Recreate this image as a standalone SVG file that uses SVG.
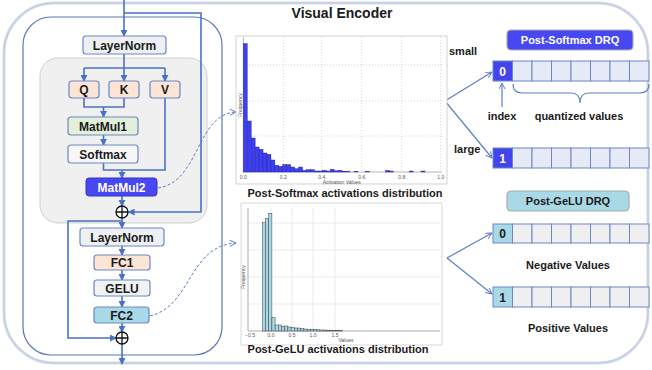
<svg xmlns="http://www.w3.org/2000/svg" width="652" height="370" viewBox="0 0 652 370">
<defs>
<style>
text{font-family:"Liberation Sans",Arial,sans-serif;font-weight:bold;fill:#1a1a1a}
.box{stroke:#6a88c6;stroke-width:1.2}
.lbl{font-size:12px;text-anchor:middle}
.ln{fill:none;stroke:#4a72c4;stroke-width:1.6}
.arr{marker-end:url(#ah)}
.thin{fill:none;stroke:#5b7fc7;stroke-width:1.2;marker-end:url(#oh)}
.dash{fill:none;stroke:#5b7fc7;stroke-width:1;stroke-dasharray:3,2;marker-end:url(#oh)}
.plus{fill:#fff;stroke:#111;stroke-width:1.3}
.cell{stroke:#6a88c6;stroke-width:1}
.tick{font-size:5px;font-weight:normal;fill:#555;text-anchor:middle}
.grid1{stroke:#bbb;stroke-width:0.6;stroke-dasharray:1,2}
.grid2{stroke:#e2e2e2;stroke-width:0.7}
.b1{fill:#3f3ff2;stroke:#20208a;stroke-width:0.4}
.b2{fill:#a6d8e8;stroke:#333;stroke-width:0.45}
.sm{font-size:11px}
</style>
<marker id="ah" viewBox="0 0 8 8" refX="7" refY="4" markerWidth="7" markerHeight="7" markerUnits="userSpaceOnUse" orient="auto"><path d="M0,0 L8,4 L0,8 z" fill="#4a72c4"/></marker>
<marker id="oh" viewBox="0 0 8 8" refX="7.5" refY="4" markerWidth="7" markerHeight="7" markerUnits="userSpaceOnUse" orient="auto"><path d="M0.5,0.5 L7.5,4 L0.5,7.5" fill="none" stroke="#5b7fc7" stroke-width="1.1"/></marker>
</defs>
<rect width="652" height="370" fill="#fff"/>
<!-- outer frame -->
<rect x="4" y="3" width="644" height="360" rx="50" fill="none" stroke="#d3dbec" stroke-width="3"/>
<rect x="4" y="3" width="644" height="360" rx="50" fill="none" stroke="#b9c5dd" stroke-width="0.8"/>
<text x="342" y="18" font-size="14" text-anchor="middle">Visual Encoder</text>

<!-- encoder frame -->
<g id="encoder">
<rect x="23" y="17" width="199" height="338" rx="28" fill="none" stroke="#5b78b8" stroke-width="1.2"/>
<rect x="40" y="58" width="167" height="165" rx="18" fill="#f0f0f0" stroke="#cfcfcf" stroke-width="1"/>
</g>

<g id="connectors">
<path class="ln arr" d="M124,0 V36"/>
<path class="ln arr" d="M124,13 H201 V212 H128.5"/>
<path class="ln" d="M124,54 V68 M84,68 H165"/>
<path class="ln arr" d="M84,68 V81"/>
<path class="ln arr" d="M124,68 V81"/>
<path class="ln arr" d="M165,68 V81"/>
<path class="ln" d="M84,98 V107 H124 V98"/>
<path class="ln arr" d="M103.5,107 V117"/>
<path class="ln arr" d="M103.5,135 V145"/>
<path class="ln" d="M103.5,163 V170 H165 V98"/>
<path class="ln arr" d="M122,170 V178"/>
<path class="ln arr" d="M122,196 V206"/>
<path class="ln arr" d="M122,218 V228"/>
<path class="ln arr" d="M122,221 H68 V338 H116"/>
<path class="ln arr" d="M122,246 V255"/>
<path class="ln arr" d="M122,270 V280"/>
<path class="ln arr" d="M122,296 V307"/>
<path class="ln arr" d="M122,323 V332"/>
<path class="ln arr" d="M122,344 V364"/>
<path class="dash" d="M158,188 C200,182 196,114 236,112"/>
<path class="dash" d="M150,316 C192,306 188,246 236,243"/>
<path class="thin" d="M445,101 L492,72"/>
<path class="thin" d="M445,101 L492,158"/>
<path class="thin" d="M447,258 L492,233"/>
<path class="thin" d="M447,258 L492,294"/>
<path class="thin" d="M502,107 V83"/>
<path d="M513,84 Q513,93 522,93 H571 Q580,93 580,103 Q580,93 589,93 H640 Q649,93 649,84" fill="none" stroke="#5b7fc7" stroke-width="1.2"/>
</g>

<g id="layernorm1"><rect class="box" x="83" y="36" width="83" height="18" rx="3" fill="#eef0f4"/><text class="lbl" x="124.5" y="49.5">LayerNorm</text></g>
<g id="q"><rect class="box" x="69" y="81" width="30" height="17" rx="3" fill="#fce4d6"/><text class="lbl" x="84" y="94">Q</text></g>
<g id="k"><rect class="box" x="109" y="81" width="30" height="17" rx="3" fill="#fce4d6"/><text class="lbl" x="124" y="94">K</text></g>
<g id="v"><rect class="box" x="150" y="81" width="30" height="17" rx="3" fill="#fce4d6"/><text class="lbl" x="165" y="94">V</text></g>
<g id="matmul1"><rect class="box" x="68" y="117" width="70" height="18" rx="3" fill="#e2efda"/><text class="lbl" x="103" y="130.5">MatMul1</text></g>
<g id="softmax"><rect class="box" x="68" y="145" width="70" height="18" rx="3" fill="#f7f7f7"/><text class="lbl" x="103" y="158.5">Softmax</text></g>
<g id="matmul2"><rect x="86" y="178" width="71" height="18" rx="3" fill="#4848f2" stroke="#3535c8" stroke-width="1"/><text class="lbl" x="121.5" y="191.5" style="fill:#fff">MatMul2</text></g>
<g id="add1"><circle class="plus" cx="122" cy="212" r="6"/><path d="M116,212 H128 M122,206 V218" stroke="#111" stroke-width="1.3"/></g>
<g id="layernorm2"><rect class="box" x="80" y="228" width="84" height="18" rx="3" fill="#eef0f4"/><text class="lbl" x="122" y="241.5">LayerNorm</text></g>
<g id="fc1"><rect class="box" x="94" y="255" width="56" height="15" rx="3" fill="#fce4d6"/><text class="lbl" x="122" y="267">FC1</text></g>
<g id="gelu"><rect class="box" x="94" y="280" width="56" height="16" rx="3" fill="#f2f2f4"/><text class="lbl" x="122" y="292.5">GELU</text></g>
<g id="fc2"><rect class="box" x="94" y="307" width="55" height="16" rx="3" fill="#a9d8e6"/><text class="lbl" x="121.5" y="319.5">FC2</text></g>
<g id="add2"><circle class="plus" cx="122" cy="338" r="6"/><path d="M116,338 H128 M122,332 V344" stroke="#111" stroke-width="1.3"/></g>

<!-- histogram 1 -->
<g id="hist-softmax">
<rect x="236" y="36" width="211" height="148" fill="#fff" stroke="#c8c8c8" stroke-width="0.8"/>
<path class="grid1" d="M283.3,37 V172 M321.7,37 V172 M361.7,37 V172 M401.7,37 V172 M440.7,37 V172 M243,65 H442 M243,101 H442 M243,136 H442"/>
<line x1="243.3" y1="37" x2="243.3" y2="172" stroke="#999" stroke-width="0.7"/>
<line x1="243" y1="172" x2="442" y2="172" stroke="#999" stroke-width="0.7"/>
<rect class="b1" x="243.3" y="43.6" width="3.95" height="128.4"/>
<rect class="b1" x="247.25" y="121" width="3.95" height="51"/>
<rect class="b1" x="251.2" y="138" width="3.95" height="34"/>
<rect class="b1" x="255.15" y="147" width="3.95" height="25"/>
<rect class="b1" x="259.1" y="149.3" width="3.95" height="22.7"/>
<rect class="b1" x="263.05" y="153" width="3.95" height="19"/>
<rect class="b1" x="267" y="154.3" width="3.95" height="17.7"/>
<rect class="b1" x="270.95" y="160" width="3.95" height="12"/>
<rect class="b1" x="274.9" y="165.3" width="3.95" height="6.7"/>
<rect class="b1" x="278.85" y="166.3" width="3.95" height="5.7"/>
<rect class="b1" x="282.8" y="164.6" width="3.95" height="7.4"/>
<rect class="b1" x="286.75" y="164.6" width="3.95" height="7.4"/>
<rect class="b1" x="290.7" y="167" width="3.95" height="5"/>
<rect class="b1" x="294.65" y="168.7" width="3.95" height="3.3"/>
<rect class="b1" x="298.6" y="167" width="3.95" height="5"/>
<rect class="b1" x="302.55" y="170.3" width="3.95" height="1.7"/>
<rect class="b1" x="306.5" y="169.7" width="3.95" height="2.3"/>
<rect class="b1" x="310.45" y="169.7" width="3.95" height="2.3"/>
<rect class="b1" x="314.4" y="171" width="3.95" height="1"/>
<rect class="b1" x="318.35" y="171" width="3.95" height="1"/>
<rect class="b1" x="322.3" y="170.3" width="3.95" height="1.7"/>
<rect class="b1" x="326.25" y="171" width="3.95" height="1"/>
<rect class="b1" x="330.2" y="169.3" width="3.95" height="2.7"/>
<rect class="b1" x="334.15" y="170.8" width="3.95" height="1.2"/>
<rect class="b1" x="338.1" y="170.3" width="3.95" height="1.7"/>
<rect class="b1" x="342.05" y="171.2" width="3.95" height="0.8"/>
<rect class="b1" x="346" y="171.4" width="3.95" height="0.6"/>
<rect class="b1" x="353.9" y="171.4" width="3.95" height="0.6"/>
<rect class="b1" x="365.75" y="171.4" width="3.95" height="0.6"/>
<rect class="b1" x="385.5" y="170.5" width="3.95" height="1.5"/>
<rect class="b1" x="389.45" y="171" width="3.95" height="1"/>
<rect class="b1" x="409.2" y="171" width="3.95" height="1"/>
<rect class="b1" x="421.05" y="171" width="3.95" height="1"/>
<text class="tick" x="243.3" y="179">0.0</text>
<text class="tick" x="283.3" y="179">0.2</text>
<text class="tick" x="321.7" y="179">0.4</text>
<text class="tick" x="361.7" y="179">0.6</text>
<text class="tick" x="401.7" y="179">0.8</text>
<text class="tick" x="440.7" y="179">1.0</text>
<text class="tick" x="341.7" y="184">Activation Values</text>
<text class="tick" transform="translate(241.5,105) rotate(-90)">Frequency</text>
</g>
<text x="345" y="197" font-size="11" text-anchor="middle">Post-Softmax activations distribution</text>

<!-- histogram 2 -->
<g id="hist-gelu">
<rect x="241" y="203" width="201" height="142" fill="#fff" stroke="#d0d0d0" stroke-width="0.8"/>
<path class="grid2" d="M271,208 V331 M292,208 V331 M313,208 V331 M335,208 V331 M248,223 H440 M248,250 H440 M248,277 H440 M248,304 H440"/>
<line x1="248" y1="208" x2="248" y2="331" stroke="#888" stroke-width="0.7"/>
<line x1="248" y1="331" x2="440" y2="331" stroke="#888" stroke-width="0.7"/>
<rect class="b2" x="262.3" y="222.7" width="3.2" height="108.3"/>
<rect class="b2" x="265.5" y="218.3" width="3.2" height="112.7"/>
<rect class="b2" x="268.7" y="213.3" width="3.2" height="117.7"/>
<rect class="b2" x="271.9" y="317.7" width="3.2" height="13.3"/>
<rect class="b2" x="275.1" y="325" width="3.2" height="6"/>
<rect class="b2" x="278.3" y="325" width="3.2" height="6"/>
<rect class="b2" x="281.5" y="326.5" width="3.2" height="4.5"/>
<rect class="b2" x="284.7" y="326" width="3.2" height="5"/>
<rect class="b2" x="287.9" y="327" width="3.2" height="4"/>
<rect class="b2" x="291.1" y="327.5" width="3.2" height="3.5"/>
<rect class="b2" x="294.3" y="328" width="3.2" height="3"/>
<rect class="b2" x="297.5" y="328" width="3.2" height="3"/>
<rect class="b2" x="300.7" y="328.5" width="3.2" height="2.5"/>
<rect class="b2" x="303.9" y="329" width="3.2" height="2"/>
<rect class="b2" x="307.1" y="329.2" width="3.2" height="1.8"/>
<rect class="b2" x="310.3" y="329.5" width="3.2" height="1.5"/>
<rect class="b2" x="313.5" y="329.7" width="3.2" height="1.3"/>
<rect class="b2" x="316.7" y="329.8" width="3.2" height="1.2"/>
<rect class="b2" x="319.9" y="330" width="3.2" height="1"/>
<rect class="b2" x="323.1" y="330" width="3.2" height="1"/>
<rect class="b2" x="326.3" y="330.2" width="3.2" height="0.8"/>
<rect class="b2" x="329.5" y="330.2" width="3.2" height="0.8"/>
<rect class="b2" x="332.7" y="330.3" width="3.2" height="0.7"/>
<rect class="b2" x="335.9" y="330.4" width="3.2" height="0.6"/>
<rect class="b2" x="339.1" y="330.4" width="3.2" height="0.6"/>
<text class="tick" x="250" y="336.5">−0.5</text>
<text class="tick" x="271" y="336.5">0.0</text>
<text class="tick" x="292" y="336.5">0.5</text>
<text class="tick" x="313" y="336.5">1.0</text>
<text class="tick" x="335" y="336.5">1.5</text>
<text class="tick" x="346" y="342">Values</text>
<text class="tick" transform="translate(244.5,277) rotate(-90)">Frequency</text>
</g>
<text x="338" y="353" font-size="11" text-anchor="middle">Post-GeLU activations distribution</text>

<!-- Post-Softmax DRQ -->
<g id="softmax-drq">
<rect x="507" y="30" width="126" height="20" rx="4" fill="#4848f2" stroke="#aaaaaa" stroke-width="1.2"/>
<text x="570" y="44" font-size="11" text-anchor="middle" style="fill:#fff">Post-Softmax DRQ</text>
</g>
<text class="sm" x="449" y="55">small</text>
<text class="sm" x="454" y="153">large</text>
<g id="softmax-row0">
<rect class="cell" x="493" y="61" width="19.5" height="20" fill="#4444ee"/>
<text x="502.7" y="75.5" font-size="12" text-anchor="middle" style="fill:#fff">0</text>
<rect class="cell" x="512.5" y="61" width="19.5" height="20" fill="#e6eaf7"/>
<rect class="cell" x="532" y="61" width="19.5" height="20" fill="#e6eaf7"/>
<rect class="cell" x="551.5" y="61" width="19.5" height="20" fill="#e6eaf7"/>
<rect class="cell" x="571" y="61" width="19.5" height="20" fill="#e6eaf7"/>
<rect class="cell" x="590.5" y="61" width="19.5" height="20" fill="#e6eaf7"/>
<rect class="cell" x="610" y="61" width="19.5" height="20" fill="#e6eaf7"/>
<rect class="cell" x="629.5" y="61" width="19.5" height="20" fill="#e6eaf7"/>
</g>
<text class="sm" x="502" y="120" text-anchor="middle">index</text>
<text class="sm" x="579" y="120" text-anchor="middle">quantized values</text>
<g id="softmax-row1">
<rect class="cell" x="493" y="148" width="19.5" height="20" fill="#4444ee"/>
<text x="502.7" y="162.5" font-size="12" text-anchor="middle" style="fill:#fff">1</text>
<rect class="cell" x="512.5" y="148" width="19.5" height="20" fill="#e6eaf7"/>
<rect class="cell" x="532" y="148" width="19.5" height="20" fill="#e6eaf7"/>
<rect class="cell" x="551.5" y="148" width="19.5" height="20" fill="#e6eaf7"/>
<rect class="cell" x="571" y="148" width="19.5" height="20" fill="#e6eaf7"/>
<rect class="cell" x="590.5" y="148" width="19.5" height="20" fill="#e6eaf7"/>
<rect class="cell" x="610" y="148" width="19.5" height="20" fill="#e6eaf7"/>
<rect class="cell" x="629.5" y="148" width="19.5" height="20" fill="#e6eaf7"/>
</g>

<!-- Post-GeLU DRQ -->
<g id="gelu-drq">
<rect x="507" y="191" width="122" height="20" rx="4" fill="#a9d8e6" stroke="#aaaaaa" stroke-width="1.2"/>
<text x="568" y="205" font-size="11" text-anchor="middle">Post-GeLU DRQ</text>
</g>
<g id="gelu-row0">
<rect class="cell" x="493" y="224" width="19.5" height="19" fill="#a9d8e6"/>
<text x="502.7" y="238" font-size="12" text-anchor="middle">0</text>
<rect class="cell" x="512.5" y="224" width="19.5" height="19" fill="#efefef"/>
<rect class="cell" x="532" y="224" width="19.5" height="19" fill="#efefef"/>
<rect class="cell" x="551.5" y="224" width="19.5" height="19" fill="#efefef"/>
<rect class="cell" x="571" y="224" width="19.5" height="19" fill="#efefef"/>
<rect class="cell" x="590.5" y="224" width="19.5" height="19" fill="#efefef"/>
<rect class="cell" x="610" y="224" width="19.5" height="19" fill="#efefef"/>
<rect class="cell" x="629.5" y="224" width="19.5" height="19" fill="#efefef"/>
</g>
<text class="sm" x="568" y="269" text-anchor="middle">Negative Values</text>
<g id="gelu-row1">
<rect class="cell" x="493" y="287" width="19.5" height="20" fill="#a9d8e6"/>
<text x="502.7" y="301.5" font-size="12" text-anchor="middle">1</text>
<rect class="cell" x="512.5" y="287" width="19.5" height="20" fill="#efefef"/>
<rect class="cell" x="532" y="287" width="19.5" height="20" fill="#efefef"/>
<rect class="cell" x="551.5" y="287" width="19.5" height="20" fill="#efefef"/>
<rect class="cell" x="571" y="287" width="19.5" height="20" fill="#efefef"/>
<rect class="cell" x="590.5" y="287" width="19.5" height="20" fill="#efefef"/>
<rect class="cell" x="610" y="287" width="19.5" height="20" fill="#efefef"/>
<rect class="cell" x="629.5" y="287" width="19.5" height="20" fill="#efefef"/>
</g>
<text class="sm" x="568" y="332" text-anchor="middle">Positive Values</text>
</svg>
